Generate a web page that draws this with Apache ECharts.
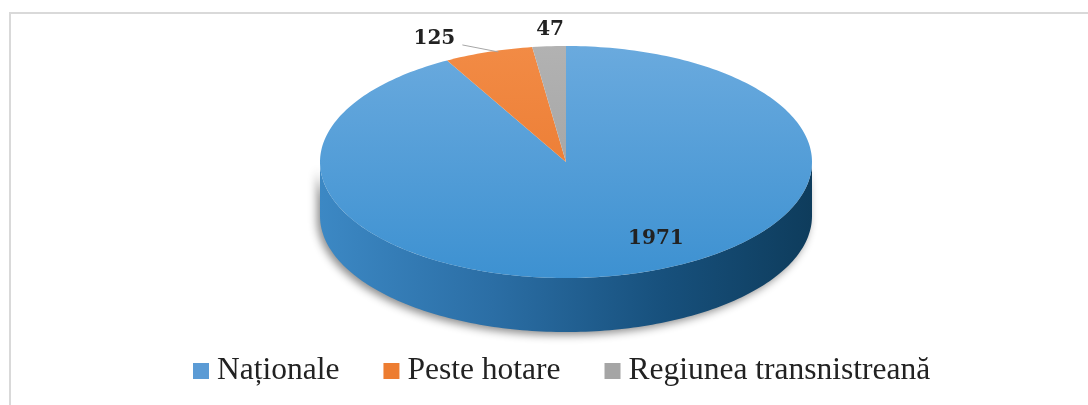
<!DOCTYPE html>
<html>
<head>
<meta charset="utf-8">
<script src="https://cdn.jsdelivr.net/npm/echarts@6/dist/echarts.min.js"></script>
<style>
  html, body { margin: 0; padding: 0; background: #fff; }
  #chart { width: 1088px; height: 405px; }
</style>
</head>
<body>
<div id="chart"></div>
<script>
// date
const categories = ['Naționale', 'Peste hotare', 'Regiunea transnistreană'];
const values = [1971, 125, 47];

// culori
const flatColors = ['#5b9bd5', '#ed7d31', '#a5a5a5'];
const topColors = [['#6aaade', '#3d91d1'], ['#f28b45', '#e8742a'], ['#b2b2b2', '#9c9c9c']];
const sideColors = [['#3c88c4', '#2b6ea5', '#17507c', '#0e3c5c'], ['#d86a20', '#b85a1b', '#9a4a15', '#7a3a10'], ['#8f8f8f', '#7e7e7e', '#6c6c6c', '#5a5a5a']];

// geometrie (elipsa pseudo-3D)
const cx = 566, cy = 162, rx = 246, ry = 116, depth = 54;
const labelNudge = [[50, 4], [-54, -13], [1, -16]];

const total = values.reduce((a, b) => a + b, 0);
const starts = [];
let acc = 0;
values.forEach(v => { starts.push(acc / total * Math.PI * 2); acc += v; });

const pt = (t, dy) => [cx + rx * Math.sin(t), cy - ry * Math.cos(t) + (dy || 0)];

const arcPoints = (a, b, dy) => {
  const n = Math.max(2, Math.ceil((b - a) / 0.02));
  const pts = [];
  for (let i = 0; i <= n; i++) pts.push(pt(a + (b - a) * i / n, dy));
  return pts;
};

const renderSlice = (i) => (params, api) => {
  const v = api.value(0);
  const a = starts[i];
  const b = a + v / total * Math.PI * 2;
  const children = [];

  // latura din fata (doar jumatatea vizibila)
  const sa = Math.max(a, Math.PI / 2), sb = Math.min(b, Math.PI * 1.5);
  if (sb > sa) {
    const top = arcPoints(sa, sb, 0);
    const bot = arcPoints(sa, sb, depth).reverse();
    const sc = sideColors[i];
    children.push({
      type: 'polygon', z2: 1,
      shape: { points: top.concat(bot) },
      style: {
        fill: {
          type: 'linear', global: true, x: cx - rx, y: 0, x2: cx + rx, y2: 0,
          colorStops: [{ offset: 0, color: sc[0] }, { offset: 0.35, color: sc[1] }, { offset: 0.7, color: sc[2] }, { offset: 1, color: sc[3] }]
        },
        shadowBlur: 8, shadowColor: 'rgba(0,0,0,0.45)', shadowOffsetX: -3, shadowOffsetY: 3
      }
    });
  }

  // fata de sus
  const tc = topColors[i];
  children.push({
    type: 'polygon', z2: 10,
    shape: { points: [[cx, cy]].concat(arcPoints(a, b, 0)) },
    style: {
      fill: {
        type: 'linear', global: true, x: 0, y: cy - ry, x2: 0, y2: cy + ry,
        colorStops: [{ offset: 0, color: tc[0] }, { offset: 1, color: tc[1] }]
      }
    }
  });

  // eticheta
  const m = (a + b) / 2;
  const inside = v / total > 0.2;
  const anchor = inside
    ? [cx + rx * Math.sin(m) * 0.65, cy - ry * Math.cos(m) * 0.65]
    : pt(m, 0);
  const nd = labelNudge[i];
  const lx = anchor[0] + nd[0], ly = anchor[1] + nd[1];
  if (!inside && Math.hypot(nd[0], nd[1]) > 30) {
    children.push({
      type: 'line', z2: 15,
      shape: { x1: anchor[0] + 10, y1: anchor[1], x2: lx + 28, y2: ly + 6 },
      style: { stroke: '#a6a6a6', lineWidth: 1 }
    });
  }
  children.push({
    type: 'text', z2: 20, x: lx, y: ly,
    style: {
      text: String(v), fontFamily: 'DejaVu Serif', fontWeight: 'bold', fontSize: 20,
      fill: '#222', align: 'center', verticalAlign: 'middle'
    }
  });

  return { type: 'group', children };
};

const chart = echarts.init(document.getElementById('chart'));

chart.setOption({
  animation: false,
  graphic: [{
    type: 'rect', z: -10, silent: true,
    shape: { x: 10, y: 13, width: 1200, height: 600 },
    style: { fill: null, stroke: '#d9d9d9', lineWidth: 2 }
  }],
  legend: {
    data: categories,
    left: 193, top: 355, padding: 0,
    icon: 'rect', itemWidth: 16, itemHeight: 16, itemGap: 44,
    textStyle: { fontFamily: 'Liberation Serif', fontSize: 31.5, color: '#222', lineHeight: 32, padding: [0, 0, 0, 3] }
  },
  series: categories.map((name, i) => ({
    type: 'custom',
    name: name,
    coordinateSystem: 'none',
    itemStyle: { color: flatColors[i] },
    data: [values[i]],
    renderItem: renderSlice(i)
  }))
});
</script>
</body>
</html>
